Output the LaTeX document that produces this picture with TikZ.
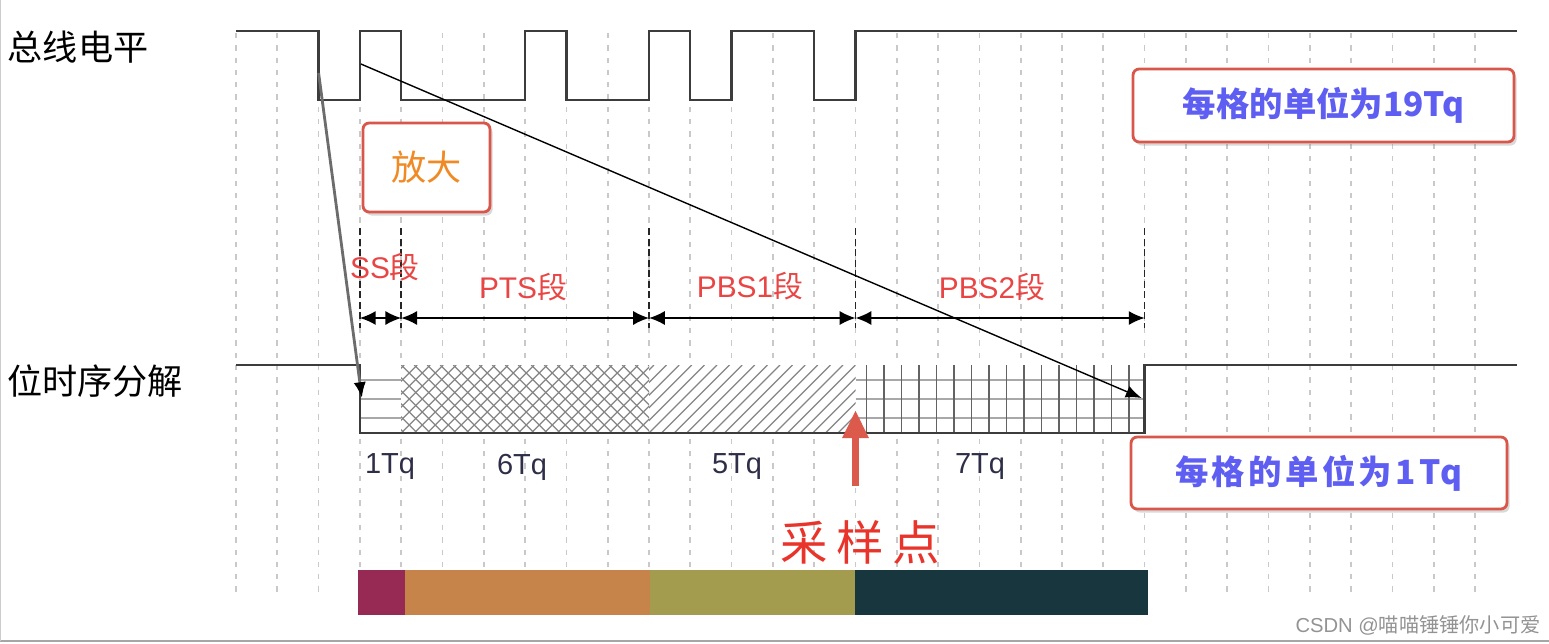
\documentclass[tikz,border=0pt]{standalone}
\usepackage{fontspec}
\setmainfont{Liberation Sans}
\newfontfamily\cjk{Noto Sans CJK SC}
\newfontfamily\cjkwide[LetterSpace=10]{Noto Sans CJK SC}
\usetikzlibrary{arrows.meta,shadows,calc}

\definecolor{busgray}{HTML}{3C3C3C}
\definecolor{gridgray}{HTML}{C9C9C9}
\definecolor{hatchgray}{HTML}{858585}
\definecolor{barsgray}{HTML}{A8A8A8}
\definecolor{boxred}{HTML}{D9574A}
\definecolor{segred}{HTML}{EA4545}
\definecolor{tqblue}{HTML}{2E2E48}
\definecolor{unitblue}{HTML}{5E5EF2}
\definecolor{zoomorange}{HTML}{F08A24}
\definecolor{samplered}{HTML}{DB5A4C}
\definecolor{sampletext}{HTML}{E8342A}
\definecolor{barss}{HTML}{962A55}
\definecolor{barpts}{HTML}{C6834A}
\definecolor{barpbsa}{HTML}{A39B4E}
\definecolor{barpbsb}{HTML}{17363D}

%% grid position in pixels, 1 cell = 1 Tq
\pgfmathdeclarefunction{gx}{1}{\pgfmathparse{236+41.3*#1}}

\begin{document}
\begin{tikzpicture}[
  x=0.02cm, y=-0.02cm,
  >={Latex[length=9pt,width=8pt]},
  gridln/.style={draw=gridgray, line width=1pt, dash pattern=on 3pt off 4pt},
  sepln/.style={draw=black!85, line width=0.9pt, dash pattern=on 4pt off 2pt},
  bus/.style={draw=busgray, line width=1.35pt},
  dim/.style={<->, line width=0.9pt},
  hatch/.style={draw=hatchgray, line width=0.7pt},
  tagbox/.style={draw=boxred, line width=1.6pt, rounded corners=3.5pt,
                 fill=white, inner sep=0pt,
                 drop shadow={shadow xshift=1.5pt, shadow yshift=-2pt, opacity=0.3}},
  rowlbl/.style={font=\cjk\fontsize{20}{20}\selectfont},
  seglbl/.style={text=segred, font=\fontsize{17}{17}\selectfont},
  tqlbl/.style={text=tqblue, font=\fontsize{16.5}{16.5}\selectfont},
]
\useasboundingbox (0,0) rectangle (1549,643);

%% frame of the screenshot
\draw[gray!70, line width=0.8pt] (0,641) -- (1549,641);
\draw[gray!40, line width=0.6pt] (0.5,0) -- (0.5,641);

%% background grid
\foreach \k in {0,...,30}
  \draw[gridln] ({gx(\k)},33) -- ({gx(\k)},592);

%% row labels
\node[rowlbl] (buslbl) at (78,47) {总线电平};
\node[rowlbl] (bitlbl) at (95,381) {位时序分解};

%% bus level
\draw[bus] ({gx(0)},31) -- ({gx(2)},31) -- ({gx(2)},100) -- ({gx(3)},100)
  -- ({gx(3)},31) -- ({gx(4)},31) -- ({gx(4)},100) -- ({gx(7)},100)
  -- ({gx(7)},31) -- ({gx(8)},31) -- ({gx(8)},100) -- ({gx(10)},100)
  -- ({gx(10)},31) -- ({gx(11)},31) -- ({gx(11)},100) -- ({gx(12)},100)
  -- ({gx(12)},31) -- ({gx(14)},31) -- ({gx(14)},100) -- ({gx(15)},100)
  -- ({gx(15)},31) -- (1517,31);

%% bit timing: fills
\fill[white] ({gx(3)},365) rectangle ({gx(22)},433);
\foreach \yy in {380,399,418}
  \draw[barsgray, line width=1.4pt] ({gx(3)},\yy) -- ({gx(4)},\yy);
\begin{scope}
  \clip ({gx(4)},365) rectangle ({gx(10)},433);
  \foreach \k in {-6,...,20} {
    \draw[hatch] ({gx(4)+13*\k},433) -- ++(68,-68);
    \draw[hatch] ({gx(4)+13*\k},365) -- ++(68,68);
  }
\end{scope}
\begin{scope}
  \clip ({gx(10)},365) rectangle ({gx(15)},433);
  \foreach \k in {-6,...,17}
    \draw[hatch] ({gx(10)+12.6*\k},433) -- ++(68,-68);
\end{scope}
\foreach \yy in {380,399,418}
  \draw[barsgray, line width=1.4pt] ({gx(15)},\yy) -- ({gx(22)},\yy);
\foreach \k in {0,...,15}
  \draw[busgray!80, line width=0.8pt] ({gx(15)+11+17.5*\k},365) -- ++(0,68);

%% bit timing: level
\draw[bus] ({gx(0)},365) -- ({gx(3)},365) -- ({gx(3)},433) -- ({gx(22)},433)
  -- ({gx(22)},365) -- (1517,365);

%% segment borders and widths
\foreach \k/\n in {3/d0,4/d1,10/d2,15/d3,22/d4} {
  \draw[sepln] ({gx(\k)},228) -- ({gx(\k)},328);
  \coordinate (\n) at ({gx(\k)},318);
}
\draw[dim] (d0) -- (d1);
\draw[dim] (d1) -- (d2);
\draw[dim] (d2) -- (d3);
\draw[dim] (d3) -- (d4);

\node[seglbl] (sslbl) at (385,267) {SS{\cjk 段}};
\node[seglbl] (ptslbl) at (523,287) {PTS{\cjk 段}};
\node[seglbl] (pbsalbl) at (750,286) {PBS1{\cjk 段}};
\node[seglbl] (pbsblbl) at (992,287) {PBS2{\cjk 段}};

\node[tqlbl] (sstq) at (390,467) {1Tq};
\node[tqlbl] (ptstq) at (522,467) {6Tq};
\node[tqlbl] (pbsatq) at (737,467) {5Tq};
\node[tqlbl] (pbsbtq) at (980,467) {7Tq};

%% zoom lines
\coordinate (busfall) at ({gx(2)},73);
\coordinate (ssedge) at ({gx(3)+2},398);
\coordinate (busrise) at ({gx(3)+1},64);
\coordinate (pbsend) at ({gx(22)-3},398);
\draw[-{Latex[length=9pt,width=7pt,color=black]}, draw=gray!85!black,
      line width=1.6pt] (busfall) -- (ssedge);
\draw[-{Latex[length=9pt,width=7pt]}, line width=0.8pt] (busrise) -- (pbsend);

%% notes
\node[tagbox, minimum width=2.54cm, minimum height=1.78cm] (zoomtag)
  at (426.5,167.5) {\cjk\fontsize{20}{20}\selectfont\color{zoomorange}放大};
\node[tagbox, minimum width=7.62cm, minimum height=1.46cm] (unitbig)
  at (1323.5,105.5) {\cjk\bfseries\fontsize{19}{19}\selectfont\color{unitblue}每格的单位为19Tq};
\node[tagbox, minimum width=7.52cm, minimum height=1.44cm] (unitsmall)
  at (1319,473) {\cjkwide\bfseries\fontsize{19}{19}\selectfont\color{unitblue}每格的单位为1Tq};

%% sample point
\coordinate (sptail) at ({gx(15)},486);
\coordinate (sptip) at ({gx(15)},410);
\draw[-{Triangle[length=16pt,width=14pt]}, draw=samplered, line width=4.5pt]
  (sptail) -- (sptip);
\node[text=sampletext, font=\cjk\fontsize{27}{27}\selectfont] (splbl)
  at (860,542) {采\hspace{5pt}样\hspace{5pt}点};

%% segment colour bar
\fill[barss] (358,570) rectangle (405,615);
\fill[barpts] (405,570) rectangle (650,615);
\fill[barpbsa] (650,570) rectangle (855,615);
\fill[barpbsb] (855,570) rectangle (1148,615);

%% watermark
\node[text=gray!85, font=\fontsize{11.5}{11.5}\selectfont] (mark)
  at (1418,625) {CSDN @{\cjk 喵喵锤锤你小可爱}};
\end{tikzpicture}
\end{document}
